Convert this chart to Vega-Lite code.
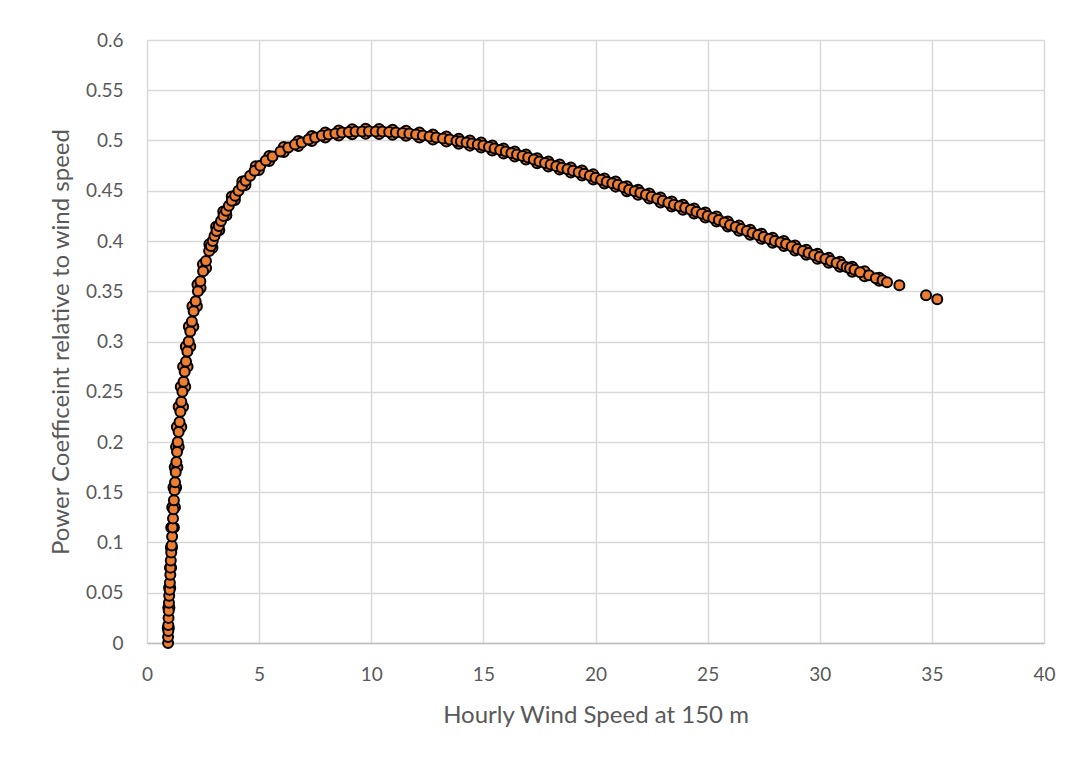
{
  "$schema": "https://vega.github.io/schema/vega-lite/v6.json",
  "autosize": {"type": "none"},
  "padding": {"left": 147, "top": 40, "right": 31, "bottom": 115},
  "width": 897,
  "height": 603,
  "background": "white",
  "data": {
    "values": [
      {"speed": 0.925, "cp": 0.015}, {"speed": 0.975, "cp": 0.015}, {"speed": 0.95, "cp": 0.035}, {"speed": 1.0, "cp": 0.035},
      {"speed": 0.985, "cp": 0.055}, {"speed": 1.035, "cp": 0.055}, {"speed": 1.025, "cp": 0.075}, {"speed": 1.075, "cp": 0.075},
      {"speed": 1.065, "cp": 0.095}, {"speed": 1.115, "cp": 0.095}, {"speed": 1.08, "cp": 0.115}, {"speed": 1.20, "cp": 0.115},
      {"speed": 1.125, "cp": 0.135}, {"speed": 1.245, "cp": 0.135}, {"speed": 1.18, "cp": 0.155}, {"speed": 1.30, "cp": 0.155},
      {"speed": 1.235, "cp": 0.175}, {"speed": 1.355, "cp": 0.175}, {"speed": 1.295, "cp": 0.195}, {"speed": 1.415, "cp": 0.195},
      {"speed": 1.33, "cp": 0.215}, {"speed": 1.53, "cp": 0.215}, {"speed": 1.41, "cp": 0.235}, {"speed": 1.61, "cp": 0.235},
      {"speed": 1.505, "cp": 0.255}, {"speed": 1.705, "cp": 0.255}, {"speed": 1.61, "cp": 0.275}, {"speed": 1.81, "cp": 0.275},
      {"speed": 1.73, "cp": 0.295}, {"speed": 1.93, "cp": 0.295}, {"speed": 1.865, "cp": 0.315}, {"speed": 2.065, "cp": 0.315},
      {"speed": 2.025, "cp": 0.335}, {"speed": 2.225, "cp": 0.335}, {"speed": 2.25, "cp": 0.3568}, {"speed": 2.39, "cp": 0.3532},
      {"speed": 2.495, "cp": 0.3768}, {"speed": 2.635, "cp": 0.3732}, {"speed": 2.78, "cp": 0.3968}, {"speed": 2.92, "cp": 0.3932},
      {"speed": 3.08, "cp": 0.4143}, {"speed": 3.22, "cp": 0.4107}, {"speed": 3.40, "cp": 0.4293}, {"speed": 3.54, "cp": 0.4257},
      {"speed": 3.78, "cp": 0.4443}, {"speed": 3.92, "cp": 0.4407}, {"speed": 4.25, "cp": 0.4593}, {"speed": 4.39, "cp": 0.4557},
      {"speed": 4.85, "cp": 0.4743}, {"speed": 4.99, "cp": 0.4707},
      {"speed": 5.45, "cp": 0.4845}, {"speed": 5.45, "cp": 0.4795}, {"speed": 6.10, "cp": 0.4935}, {"speed": 6.10, "cp": 0.4885},
      {"speed": 6.75, "cp": 0.4995}, {"speed": 6.75, "cp": 0.4945}, {"speed": 7.35, "cp": 0.5045}, {"speed": 7.35, "cp": 0.4995},
      {"speed": 7.95, "cp": 0.508}, {"speed": 7.95, "cp": 0.503}, {"speed": 8.55, "cp": 0.510}, {"speed": 8.55, "cp": 0.505},
      {"speed": 9.15, "cp": 0.5113}, {"speed": 9.15, "cp": 0.5063}, {"speed": 9.75, "cp": 0.5116}, {"speed": 9.75, "cp": 0.5066},
      {"speed": 10.35, "cp": 0.5115}, {"speed": 10.35, "cp": 0.5065}, {"speed": 10.95, "cp": 0.5108}, {"speed": 10.95, "cp": 0.5058},
      {"speed": 11.55, "cp": 0.5098}, {"speed": 11.55, "cp": 0.5048}, {"speed": 12.15, "cp": 0.508}, {"speed": 12.15, "cp": 0.503},
      {"speed": 12.75, "cp": 0.506}, {"speed": 12.75, "cp": 0.501}, {"speed": 13.35, "cp": 0.504}, {"speed": 13.35, "cp": 0.499},
      {"speed": 13.90, "cp": 0.5017}, {"speed": 13.90, "cp": 0.4967}, {"speed": 14.40, "cp": 0.4999}, {"speed": 14.40, "cp": 0.4949},
      {"speed": 14.90, "cp": 0.498}, {"speed": 14.90, "cp": 0.493}, {"speed": 15.40, "cp": 0.4951}, {"speed": 15.40, "cp": 0.4901},
      {"speed": 15.90, "cp": 0.4921}, {"speed": 15.90, "cp": 0.4871}, {"speed": 16.40, "cp": 0.4891}, {"speed": 16.40, "cp": 0.4841},
      {"speed": 16.90, "cp": 0.4861}, {"speed": 16.90, "cp": 0.4811}, {"speed": 17.40, "cp": 0.4823}, {"speed": 17.40, "cp": 0.4773},
      {"speed": 17.90, "cp": 0.4791}, {"speed": 17.90, "cp": 0.4741}, {"speed": 18.40, "cp": 0.4761}, {"speed": 18.40, "cp": 0.4711},
      {"speed": 18.90, "cp": 0.4731}, {"speed": 18.90, "cp": 0.4681}, {"speed": 19.40, "cp": 0.4701}, {"speed": 19.40, "cp": 0.4651},
      {"speed": 19.90, "cp": 0.4663}, {"speed": 19.90, "cp": 0.4613}, {"speed": 20.40, "cp": 0.4623}, {"speed": 20.40, "cp": 0.4573},
      {"speed": 20.90, "cp": 0.4591}, {"speed": 20.90, "cp": 0.4541}, {"speed": 21.40, "cp": 0.4545}, {"speed": 21.40, "cp": 0.4495},
      {"speed": 21.90, "cp": 0.4511}, {"speed": 21.90, "cp": 0.4461}, {"speed": 22.40, "cp": 0.4473}, {"speed": 22.40, "cp": 0.4423},
      {"speed": 22.90, "cp": 0.4433}, {"speed": 22.90, "cp": 0.4383}, {"speed": 23.40, "cp": 0.4393}, {"speed": 23.40, "cp": 0.4343},
      {"speed": 23.90, "cp": 0.4361}, {"speed": 23.90, "cp": 0.4311}, {"speed": 24.40, "cp": 0.4323}, {"speed": 24.40, "cp": 0.4273},
      {"speed": 24.90, "cp": 0.4283}, {"speed": 24.90, "cp": 0.4233}, {"speed": 25.40, "cp": 0.4243}, {"speed": 25.40, "cp": 0.4193},
      {"speed": 25.90, "cp": 0.4195}, {"speed": 25.90, "cp": 0.4145}, {"speed": 26.40, "cp": 0.4153}, {"speed": 26.40, "cp": 0.4103},
      {"speed": 26.90, "cp": 0.4113}, {"speed": 26.90, "cp": 0.4063}, {"speed": 27.40, "cp": 0.4073}, {"speed": 27.40, "cp": 0.4023},
      {"speed": 27.90, "cp": 0.4033}, {"speed": 27.90, "cp": 0.3983}, {"speed": 28.40, "cp": 0.4001}, {"speed": 28.40, "cp": 0.3951},
      {"speed": 28.90, "cp": 0.3955}, {"speed": 28.90, "cp": 0.3905}, {"speed": 29.40, "cp": 0.3913}, {"speed": 29.40, "cp": 0.3863},
      {"speed": 29.90, "cp": 0.3873}, {"speed": 29.90, "cp": 0.3823}, {"speed": 30.40, "cp": 0.3833}, {"speed": 30.40, "cp": 0.3783},
      {"speed": 30.90, "cp": 0.3793}, {"speed": 30.90, "cp": 0.3743}, {"speed": 31.45, "cp": 0.3745}, {"speed": 31.45, "cp": 0.3695},
      {"speed": 32.00, "cp": 0.370}, {"speed": 32.00, "cp": 0.365}, {"speed": 32.65, "cp": 0.3635}, {"speed": 32.65, "cp": 0.3605},

      {"speed": 0.94, "cp": 0.000}, {"speed": 0.94, "cp": 0.006}, {"speed": 0.95, "cp": 0.012}, {"speed": 0.95, "cp": 0.018},
      {"speed": 0.96, "cp": 0.025}, {"speed": 0.97, "cp": 0.032}, {"speed": 0.98, "cp": 0.040}, {"speed": 0.99, "cp": 0.047},
      {"speed": 1.01, "cp": 0.053}, {"speed": 1.02, "cp": 0.060}, {"speed": 1.04, "cp": 0.068}, {"speed": 1.05, "cp": 0.075},
      {"speed": 1.06, "cp": 0.082}, {"speed": 1.08, "cp": 0.090}, {"speed": 1.10, "cp": 0.097}, {"speed": 1.12, "cp": 0.106},
      {"speed": 1.14, "cp": 0.115}, {"speed": 1.16, "cp": 0.124}, {"speed": 1.18, "cp": 0.133}, {"speed": 1.20, "cp": 0.142},
      {"speed": 1.23, "cp": 0.152}, {"speed": 1.25, "cp": 0.160}, {"speed": 1.28, "cp": 0.170}, {"speed": 1.31, "cp": 0.180},
      {"speed": 1.34, "cp": 0.190}, {"speed": 1.37, "cp": 0.200}, {"speed": 1.41, "cp": 0.210}, {"speed": 1.45, "cp": 0.220},
      {"speed": 1.49, "cp": 0.230}, {"speed": 1.53, "cp": 0.240}, {"speed": 1.58, "cp": 0.250}, {"speed": 1.63, "cp": 0.260},
      {"speed": 1.68, "cp": 0.270}, {"speed": 1.74, "cp": 0.280}, {"speed": 1.80, "cp": 0.290}, {"speed": 1.86, "cp": 0.300},
      {"speed": 1.93, "cp": 0.310}, {"speed": 2.00, "cp": 0.320}, {"speed": 2.08, "cp": 0.330}, {"speed": 2.17, "cp": 0.340},
      {"speed": 2.27, "cp": 0.350}, {"speed": 2.38, "cp": 0.360}, {"speed": 2.50, "cp": 0.370}, {"speed": 2.63, "cp": 0.380},
      {"speed": 2.77, "cp": 0.390}, {"speed": 2.85, "cp": 0.395}, {"speed": 2.93, "cp": 0.400}, {"speed": 3.01, "cp": 0.405},
      {"speed": 3.10, "cp": 0.410}, {"speed": 3.20, "cp": 0.415}, {"speed": 3.30, "cp": 0.420}, {"speed": 3.41, "cp": 0.425},
      {"speed": 3.53, "cp": 0.430}, {"speed": 3.65, "cp": 0.435}, {"speed": 3.78, "cp": 0.440}, {"speed": 3.93, "cp": 0.445},
      {"speed": 4.08, "cp": 0.450}, {"speed": 4.24, "cp": 0.455}, {"speed": 4.40, "cp": 0.460}, {"speed": 4.60, "cp": 0.465},
      {"speed": 4.80, "cp": 0.470}, {"speed": 5.05, "cp": 0.475}, {"speed": 5.30, "cp": 0.480}, {"speed": 5.60, "cp": 0.484},
      {"speed": 5.95, "cp": 0.489}, {"speed": 6.30, "cp": 0.493}, {"speed": 6.60, "cp": 0.496}, {"speed": 6.90, "cp": 0.498},
      {"speed": 7.20, "cp": 0.501}, {"speed": 7.50, "cp": 0.503}, {"speed": 7.80, "cp": 0.505}, {"speed": 8.10, "cp": 0.506},
      {"speed": 8.40, "cp": 0.507}, {"speed": 8.70, "cp": 0.508}, {"speed": 9.00, "cp": 0.5085}, {"speed": 9.30, "cp": 0.509},
      {"speed": 9.60, "cp": 0.509}, {"speed": 9.90, "cp": 0.5092}, {"speed": 10.20, "cp": 0.509}, {"speed": 10.50, "cp": 0.509},
      {"speed": 10.80, "cp": 0.5085}, {"speed": 11.10, "cp": 0.508}, {"speed": 11.40, "cp": 0.5075}, {"speed": 11.70, "cp": 0.507},
      {"speed": 12.00, "cp": 0.506}, {"speed": 12.30, "cp": 0.505}, {"speed": 12.60, "cp": 0.504}, {"speed": 12.90, "cp": 0.503},
      {"speed": 13.20, "cp": 0.502}, {"speed": 13.50, "cp": 0.501}, {"speed": 13.80, "cp": 0.4995}, {"speed": 14.00, "cp": 0.499},
      {"speed": 14.25, "cp": 0.498}, {"speed": 14.50, "cp": 0.497}, {"speed": 14.75, "cp": 0.496}, {"speed": 15.00, "cp": 0.495},
      {"speed": 15.25, "cp": 0.4935}, {"speed": 15.50, "cp": 0.492}, {"speed": 15.75, "cp": 0.4905}, {"speed": 16.00, "cp": 0.489},
      {"speed": 16.25, "cp": 0.4875}, {"speed": 16.50, "cp": 0.486}, {"speed": 16.75, "cp": 0.4845}, {"speed": 17.00, "cp": 0.483},
      {"speed": 17.25, "cp": 0.481}, {"speed": 17.50, "cp": 0.479}, {"speed": 17.75, "cp": 0.4775}, {"speed": 18.00, "cp": 0.476},
      {"speed": 18.25, "cp": 0.4745}, {"speed": 18.50, "cp": 0.473}, {"speed": 18.75, "cp": 0.4715}, {"speed": 19.00, "cp": 0.470},
      {"speed": 19.25, "cp": 0.4685}, {"speed": 19.50, "cp": 0.467}, {"speed": 19.75, "cp": 0.465}, {"speed": 20.00, "cp": 0.463},
      {"speed": 20.25, "cp": 0.461}, {"speed": 20.50, "cp": 0.459}, {"speed": 20.75, "cp": 0.4575}, {"speed": 21.00, "cp": 0.456},
      {"speed": 21.25, "cp": 0.4535}, {"speed": 21.50, "cp": 0.451}, {"speed": 21.75, "cp": 0.4495}, {"speed": 22.00, "cp": 0.448},
      {"speed": 22.25, "cp": 0.446}, {"speed": 22.50, "cp": 0.444}, {"speed": 22.75, "cp": 0.442}, {"speed": 23.00, "cp": 0.440},
      {"speed": 23.25, "cp": 0.438}, {"speed": 23.50, "cp": 0.436}, {"speed": 23.75, "cp": 0.4345}, {"speed": 24.00, "cp": 0.433},
      {"speed": 24.25, "cp": 0.431}, {"speed": 24.50, "cp": 0.429}, {"speed": 24.75, "cp": 0.427}, {"speed": 25.00, "cp": 0.425},
      {"speed": 25.25, "cp": 0.423}, {"speed": 25.50, "cp": 0.421}, {"speed": 25.75, "cp": 0.4185}, {"speed": 26.00, "cp": 0.416},
      {"speed": 26.25, "cp": 0.414}, {"speed": 26.50, "cp": 0.412}, {"speed": 26.75, "cp": 0.410}, {"speed": 27.00, "cp": 0.408},
      {"speed": 27.25, "cp": 0.406}, {"speed": 27.50, "cp": 0.404}, {"speed": 27.75, "cp": 0.402}, {"speed": 28.00, "cp": 0.400},
      {"speed": 28.25, "cp": 0.3985}, {"speed": 28.50, "cp": 0.397}, {"speed": 28.75, "cp": 0.3945}, {"speed": 29.00, "cp": 0.392},
      {"speed": 29.25, "cp": 0.390}, {"speed": 29.50, "cp": 0.388}, {"speed": 29.75, "cp": 0.386}, {"speed": 30.00, "cp": 0.384},
      {"speed": 30.25, "cp": 0.382}, {"speed": 30.50, "cp": 0.380}, {"speed": 30.75, "cp": 0.378}, {"speed": 31.00, "cp": 0.376},
      {"speed": 31.20, "cp": 0.374}, {"speed": 31.35, "cp": 0.373}, {"speed": 31.55, "cp": 0.3715}, {"speed": 31.80, "cp": 0.369},
      {"speed": 32.20, "cp": 0.366}, {"speed": 32.50, "cp": 0.363}, {"speed": 32.80, "cp": 0.361}, {"speed": 33.00, "cp": 0.359},
      {"speed": 33.55, "cp": 0.356}, {"speed": 34.74, "cp": 0.346}, {"speed": 35.24, "cp": 0.342}
    ]
  },
  "mark": {"type": "point", "shape": "circle", "filled": true, "size": 100, "fill": "#ED7D31", "stroke": "#000000", "strokeWidth": 2, "opacity": 1},
  "encoding": {
    "x": {
      "field": "speed", "type": "quantitative",
      "scale": {"domain": [0, 40], "nice": false, "zero": true},
      "axis": {
        "title": "Hourly Wind Speed at 150 m",
        "values": [0, 5, 10, 15, 20, 25, 30, 35, 40],
        "format": "d",
        "ticks": false,
        "labelPadding": 22,
        "titlePadding": 19,
        "domain": true, "domainColor": "#bfbfbf", "domainWidth": 1.5,
        "gridColor": "#d9d9d9", "gridWidth": 1.5
      }
    },
    "y": {
      "field": "cp", "type": "quantitative",
      "scale": {"domain": [0, 0.6], "nice": false},
      "axis": {
        "title": "Power Coefficeint relative to wind speed",
        "values": [0, 0.05, 0.1, 0.15, 0.2, 0.25, 0.3, 0.35, 0.4, 0.45, 0.5, 0.55, 0.6],
        "format": "~g",
        "ticks": false,
        "labelPadding": 24,
        "titlePadding": 12,
        "domain": false,
        "gridColor": "#d9d9d9", "gridWidth": 1.5
      }
    }
  },
  "config": {
    "view": {"stroke": null},
    "axis": {
      "labelFont": "Lato", "labelFontSize": 19, "labelColor": "#595959", "labelFlush": false,
      "titleFont": "Lato", "titleFontSize": 24, "titleFontWeight": "normal", "titleColor": "#595959",
      "grid": true
    }
  }
}
